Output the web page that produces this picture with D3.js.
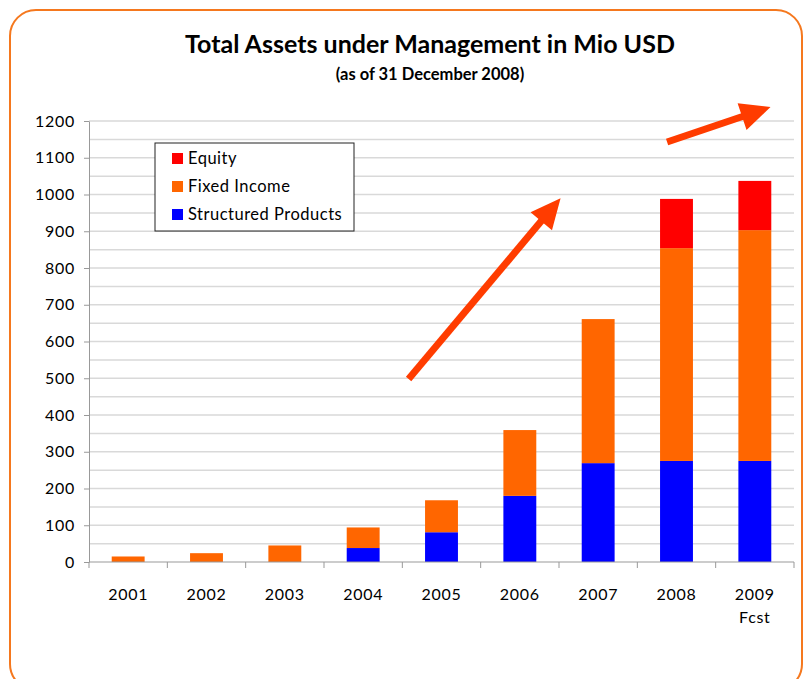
<!DOCTYPE html>
<html>
<head>
<meta charset="utf-8">
<title>Total Assets under Management in Mio USD</title>
<script src="https://cdn.jsdelivr.net/npm/d3@7"></script>
<style>
    body { margin: 0; background: #fff; }
    svg text { font-family: Lato, 'Open Sans', sans-serif; fill: #000; }
    .title { font-size: 25px; font-weight: 700; }
    .subtitle { font-size: 16.5px; font-weight: 700; }
    .axis text { font-size: 16px; letter-spacing: 0.7px; }
    .axis path, .axis line { stroke: #999; }
    .grid line { stroke: #d9d9d9; stroke-width: 1.5; }
    .legend text { font-size: 16.5px; letter-spacing: 0.5px; }
</style>
</head>
<body>
<div id="chart"></div>
<script>
var years = ['2001', '2002', '2003', '2004', '2005', '2006', '2007', '2008', '2009'];
var yearSubLabels = ['', '', '', '', '', '', '', '', 'Fcst'];
var structuredProducts = [0, 0, 0, 38, 81, 180, 269, 275, 275];
var fixedIncome = [15, 24, 45, 56, 87, 179, 392, 579, 628];
var equity = [0, 0, 0, 0, 0, 0, 0, 134, 134];
var yTicks = [0, 100, 200, 300, 400, 500, 600, 700, 800, 900, 1000, 1100, 1200];
var seriesNames = ['Structured Products', 'Fixed Income', 'Equity'];
var seriesColors = ['#0000ff', '#ff6600', '#ff0000'];
// trend arrows: [category position, value] for tail and tip
var arrows = [
    { from: [4.08, 498], to: [6.02, 990] },
    { from: [7.38, 1143], to: [8.70, 1238] }
];

var W = 803, H = 679;
var PLOT_LEFT = 89, PLOT_RIGHT = 794, PLOT_TOP = 121, PLOT_BOTTOM = 562;

var svg = d3.select('#chart').append('svg')
    .attr('width', W)
    .attr('height', H);

// rounded orange frame
svg.append('rect')
    .attr('x', 10).attr('y', 10)
    .attr('width', 792).attr('height', 680)
    .attr('rx', 26).attr('ry', 26)
    .attr('fill', 'none')
    .attr('stroke', '#f5781e')
    .attr('stroke-width', 2);

svg.append('text').attr('class', 'title')
    .attr('x', 430).attr('y', 53)
    .attr('text-anchor', 'middle')
    .text('Total Assets under Management in Mio USD');
svg.append('text').attr('class', 'subtitle')
    .attr('x', 430).attr('y', 80)
    .attr('text-anchor', 'middle')
    .text('(as of 31 December 2008)');

var x = d3.scaleBand()
    .domain(years)
    .range([PLOT_LEFT, PLOT_RIGHT])
    .paddingInner(0.58)
    .paddingOuter(0.29);

var xPos = d3.scaleLinear().domain([0, years.length]).range([PLOT_LEFT, PLOT_RIGHT]);

var y = d3.scaleLinear()
    .domain([0, 1200])
    .range([PLOT_BOTTOM, PLOT_TOP]);

// gridlines every 50
svg.append('g').attr('class', 'grid')
    .selectAll('line')
    .data(d3.range(50, 1201, 50))
    .enter().append('line')
    .attr('x1', PLOT_LEFT).attr('x2', PLOT_RIGHT)
    .attr('y1', function(d) { return y(d); })
    .attr('y2', function(d) { return y(d); });

// stacked bars
var table = years.map(function(yr, i) {
    return { year: yr, s0: structuredProducts[i], s1: fixedIncome[i], s2: equity[i] };
});
var stack = d3.stack().keys(['s0', 's1', 's2'])(table);

svg.append('g').selectAll('g')
    .data(stack)
    .enter().append('g')
    .attr('fill', function(d, i) { return seriesColors[i]; })
    .selectAll('rect')
    .data(function(d) { return d; })
    .enter().append('rect')
    .attr('x', function(d) { return x(d.data.year); })
    .attr('width', x.bandwidth())
    .attr('y', function(d) { return y(d[1]); })
    .attr('height', function(d) { return y(d[0]) - y(d[1]); });

// y axis
var yAxis = svg.append('g').attr('class', 'axis')
    .attr('transform', 'translate(' + PLOT_LEFT + ',0)')
    .call(d3.axisLeft(y).tickValues(yTicks).tickFormat(d3.format('d'))
        .tickSize(5).tickPadding(9).tickSizeOuter(0));
yAxis.select('.domain').attr('stroke', '#999');

// x axis
var xAxisG = svg.append('g').attr('class', 'axis');
xAxisG.append('line')
    .attr('x1', PLOT_LEFT).attr('x2', PLOT_RIGHT)
    .attr('y1', PLOT_BOTTOM).attr('y2', PLOT_BOTTOM)
    .attr('stroke', '#999');
xAxisG.selectAll('line.tick')
    .data(d3.range(0, years.length + 1))
    .enter().append('line')
    .attr('class', 'tick')
    .attr('x1', function(d) { return xPos(d); })
    .attr('x2', function(d) { return xPos(d); })
    .attr('y1', PLOT_BOTTOM).attr('y2', PLOT_BOTTOM + 6);
xAxisG.selectAll('text.year')
    .data(years)
    .enter().append('text')
    .attr('class', 'year')
    .attr('text-anchor', 'middle')
    .attr('x', function(d) { return x(d) + x.bandwidth() / 2; })
    .attr('y', 600)
    .text(function(d) { return d; });
xAxisG.selectAll('text.sub')
    .data(yearSubLabels)
    .enter().append('text')
    .attr('class', 'sub')
    .attr('text-anchor', 'middle')
    .attr('x', function(d, i) { return x(years[i]) + x.bandwidth() / 2; })
    .attr('y', 623)
    .text(function(d) { return d; });

// legend
var legend = svg.append('g').attr('class', 'legend');
legend.append('rect')
    .attr('x', 155).attr('y', 143)
    .attr('width', 199).attr('height', 88)
    .attr('fill', '#fff')
    .attr('stroke', '#222')
    .attr('stroke-width', 1);
var legendOrder = [2, 1, 0];
legendOrder.forEach(function(k, i) {
    var top = 153 + i * 28;
    legend.append('rect')
        .attr('x', 172).attr('y', top)
        .attr('width', 11).attr('height', 11)
        .attr('fill', seriesColors[k]);
    legend.append('text')
        .attr('x', 188).attr('y', top + 11)
        .text(seriesNames[k]);
});

// trend arrows
var ARROW_COLOR = '#ff3c00';
arrows.forEach(function(a) {
    var x0 = xPos(a.from[0]), y0 = y(a.from[1]);
    var x1 = xPos(a.to[0]), y1 = y(a.to[1]);
    var dx = x1 - x0, dy = y1 - y0;
    var len = Math.sqrt(dx * dx + dy * dy);
    var ux = dx / len, uy = dy / len;
    var headLen = 30, headHalf = 14;
    var bx = x1 - ux * headLen, by = y1 - uy * headLen;
    svg.append('line')
        .attr('x1', x0).attr('y1', y0)
        .attr('x2', bx + ux * 2).attr('y2', by + uy * 2)
        .attr('stroke', ARROW_COLOR)
        .attr('stroke-width', 7);
    svg.append('polygon')
        .attr('points', [
            [x1, y1],
            [bx - uy * headHalf, by + ux * headHalf],
            [bx + uy * headHalf, by - ux * headHalf]
        ].join(' '))
        .attr('fill', ARROW_COLOR);
});
</script>
</body>
</html>
